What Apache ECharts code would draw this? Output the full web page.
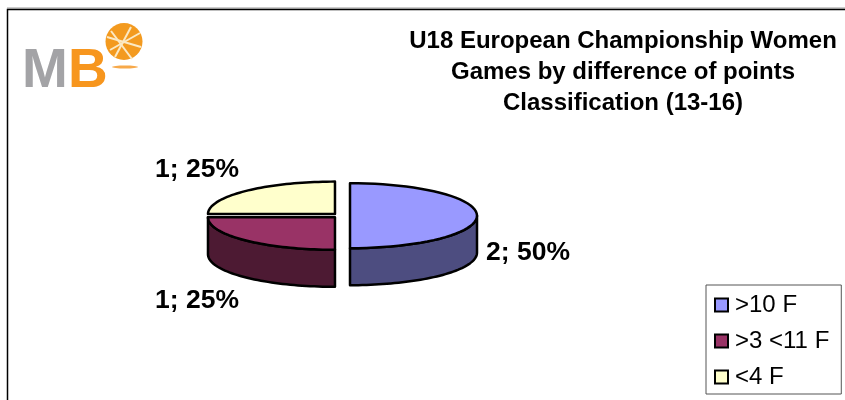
<!DOCTYPE html>
<html>
<head>
<meta charset="utf-8">
<style>
html, body { margin: 0; padding: 0; background: #fff; }
#chart { width: 845px; height: 400px; }
</style>
<script src="https://cdn.jsdelivr.net/npm/echarts@6/dist/echarts.min.js"></script>
</head>
<body>
<div id="chart"></div>
<script>
// data
var categories = ['>10 F', '>3 <11 F', '<4 F'];
var games = [2, 1, 1];
var titleLines = ['U18 European Championship Women', 'Games by difference of points', 'Classification (13-16)'];

// colours
var topColors = ['#9999ff', '#993366', '#ffffcc'];
var sideColors = ['#4d4d80', '#4d1a33', '#808066'];
var fontName = '"Liberation Sans", Arial, sans-serif';

// pie geometry
var cx = 341.2, cy = 215.7, rx = 127, ry = 32.5, depth = 37, explode = 8.8;
// where each label sits
var labelPos = [[486, 253], [155, 301], [155, 170]];

var total = games.reduce(function(a, b) { return a + b }, 0);

function arcPoints(x, y, from, to) {
    var pts = [];
    var steps = 48;
    for (var i = 0; i <= steps; i++) {
        var a = from + (to - from) * i / steps;
        pts.push([x + Math.sin(a) * rx, y - Math.cos(a) * ry]);
    }
    return pts;
}

// each slice is its own series so the legend picks them up
function makeSeries(idx) {
    var start = 0;
    for (var i = 0; i < idx; i++) start += games[i];
    var from = start / total * Math.PI * 2;
    return {
        type: 'custom',
        name: categories[idx],
        coordinateSystem: 'none',
        silent: true,
        itemStyle: { color: topColors[idx] },
        data: [[games[idx]]],
        renderItem: function(params, api) {
            var to = from + api.value(0) / total * Math.PI * 2;
            var mid = (from + to) / 2;
            var x = cx + Math.sin(mid) * explode;
            var y = cy - Math.cos(mid) * explode * ry / rx;
            var children = [];
            // front wall, only the part between 90 and 270 degrees shows
            var a = Math.max(from, Math.PI / 2);
            var b = Math.min(to, Math.PI * 1.5);
            if (b > a) {
                var upper = arcPoints(x, y, a, b);
                var lower = arcPoints(x, y + depth, b, a);
                children.push({
                    type: 'polygon',
                    shape: { points: upper.concat(lower) },
                    style: { fill: sideColors[idx], stroke: '#000', lineWidth: 2.5, lineJoin: 'round' }
                });
            }
            // top face
            children.push({
                type: 'polygon',
                shape: { points: [[x, y]].concat(arcPoints(x, y, from, to)) },
                style: { fill: topColors[idx], stroke: '#000', lineWidth: 2.5, lineJoin: 'round' }
            });
            // value; percent
            children.push({
                type: 'text',
                style: {
                    x: labelPos[idx][0],
                    y: labelPos[idx][1],
                    text: api.value(0) + '; ' + Math.round(api.value(0) / total * 100) + '%',
                    font: 'bold 26.5px ' + fontName,
                    fill: '#000',
                    textAlign: 'left',
                    textVerticalAlign: 'middle'
                }
            });
            return { type: 'group', children: children };
        }
    };
}

var myChart = echarts.init(document.getElementById('chart'), null, { renderer: 'canvas' });
var option = {
    animation: false,
    backgroundColor: '#fff',
    title: {
        text: titleLines.join('\n'),
        left: 618,
        top: 21,
        textAlign: 'center',
        textStyle: { fontFamily: fontName, fontSize: 24, fontWeight: 'bold', color: '#000', lineHeight: 31 }
    },
    legend: {
        orient: 'vertical',
        left: 706,
        top: 285,
        data: categories.map(function(name, i) {
            return { name: name, icon: 'rect', itemStyle: { color: topColors[i], borderColor: '#000', borderWidth: 2 } };
        }),
        itemWidth: 13,
        itemHeight: 13,
        itemGap: 12,
        itemStyle: { borderColor: '#000', borderWidth: 2 },
        padding: [8, 12, 5, 8],
        borderColor: '#555',
        borderWidth: 1,
        backgroundColor: '#fff',
        textStyle: { fontFamily: fontName, fontSize: 24, color: '#000', lineHeight: 23, padding: [0, 0, 0, 2] }
    },
    graphic: [
        // chart frame
        { type: 'line', shape: { x1: 7, y1: 8, x2: 845, y2: 8 }, style: { stroke: '#999', lineWidth: 1 } },
        { type: 'polyline', shape: { points: [[7.5, 400], [7.5, 9.5], [845, 9.5]] }, style: { stroke: '#000', fill: null, lineWidth: 1.5 } },
        // logo
        { type: 'text', style: { x: 22, y: 99, text: 'M', font: 'bold 55px ' + fontName, fill: '#a3a3a6', textVerticalAlign: 'bottom' } },
        { type: 'text', style: { x: 68, y: 99, text: 'B', font: 'bold 55px ' + fontName, fill: '#f7961e', textVerticalAlign: 'bottom' } },
        { type: 'circle', shape: { cx: 124, cy: 41.5, r: 18.5 }, style: { fill: '#f39a1f' } },
        { type: 'line', shape: { x1: 107, y1: 37, x2: 141, y2: 47 }, style: { stroke: '#fbe9c4', lineWidth: 2 } },
        { type: 'line', shape: { x1: 111, y1: 31, x2: 132, y2: 59 }, style: { stroke: '#fbe9c4', lineWidth: 2 } },
        { type: 'line', shape: { x1: 131, y1: 27, x2: 115, y2: 57 }, style: { stroke: '#fbe9c4', lineWidth: 2 } },
        { type: 'line', shape: { x1: 140, y1: 33, x2: 110, y2: 50 }, style: { stroke: '#fbe9c4', lineWidth: 2 } },
        { type: 'ellipse', shape: { cx: 125, cy: 67, rx: 13, ry: 1.5 }, style: { fill: '#f7a94a' } }
    ],
    series: [makeSeries(0), makeSeries(1), makeSeries(2)]
};
myChart.setOption(option);
</script>
</body>
</html>
